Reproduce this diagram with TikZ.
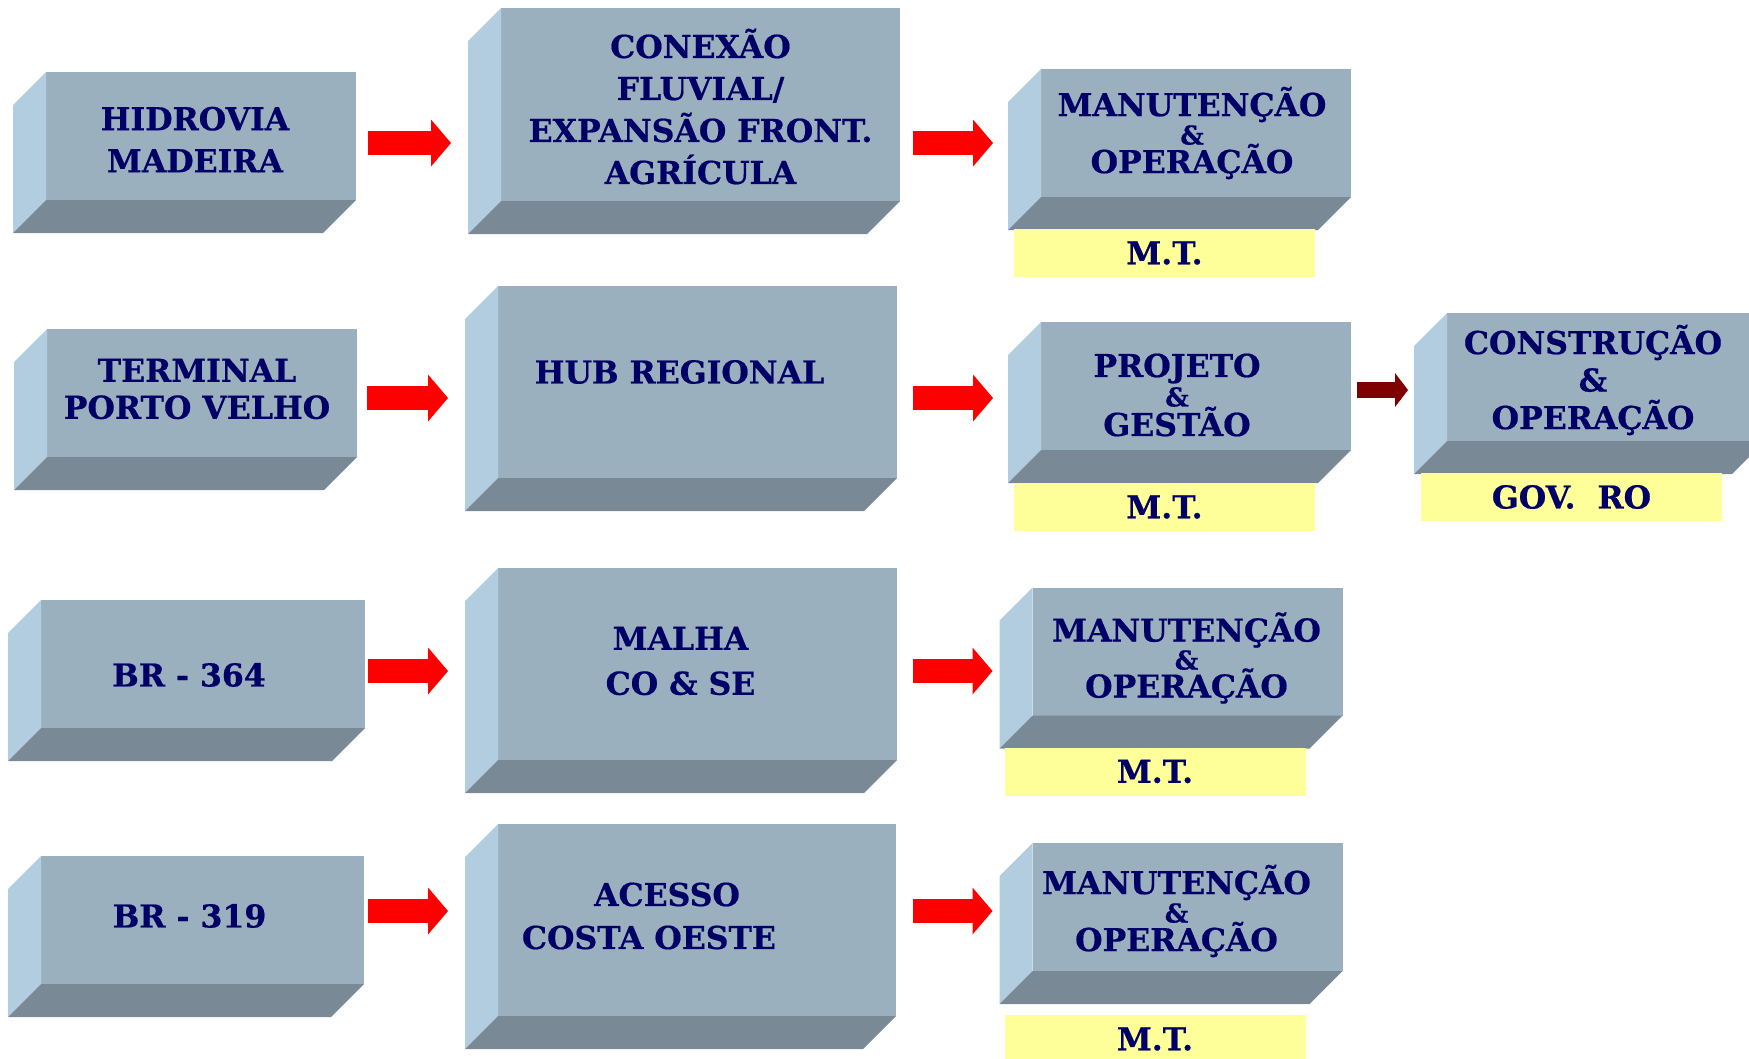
\documentclass[tikz,border=0pt]{standalone}
\usepackage{fontspec}
\setmainfont{DejaVu Serif}[BoldFeatures={FakeBold=0.6}]
\usetikzlibrary{arrows.meta, positioning}
\definecolor{slabfront}{HTML}{9BB0BF}
\definecolor{slabside}{HTML}{B3CDE0}
\definecolor{slabbottom}{HTML}{798A96}
\definecolor{labelnavy}{HTML}{000066}
\definecolor{tagyellow}{HTML}{FFFF99}
\definecolor{darkarrow}{HTML}{800000}
\newcommand{\amp}{{\fontsize{26}{28}\selectfont\&}}

\begin{document}
\begin{tikzpicture}[x=1pt, y=-1pt,
    slab/.style={fill=slabfront, inner sep=0pt, outer sep=0pt, minimum width=310pt, minimum height=128pt},
    boxtxt/.style={text=labelnavy, align=center, inner sep=0pt, font={\bfseries\fontsize{31.5}{#1}\selectfont\lineskiplimit=-100pt}},
    boxtxt/.default=42,
    tag/.style={fill=tagyellow, text=labelnavy, inner sep=0pt, outer sep=0pt, minimum width=301pt, minimum height=48pt, anchor=north west, font=\bfseries\fontsize{31.5}{36}\selectfont},
    redarrow/.style={red, line width=24pt, -{Triangle[length=20pt 0, width=47pt 0, line width=0pt]}, shorten >=50pt},
    darkred/.style={darkarrow, line width=16pt, -{Triangle[length=13pt 0, width=34pt 0, line width=0pt]}}]
        \useasboundingbox (0,0) rectangle (1749,1058);

        % front faces
        \node [slab] (hidrovia) at (201,136) {};
        \node [slab, minimum width=399pt, minimum height=193pt] (conexao) at (700.5,104.5) {};
        \node [slab] (manut1) at (1196,133) {};

        \node [slab] (terminal) at (202,393) {};
        \node [slab, minimum width=399pt, minimum height=192pt] (hub) at (697.5,382) {};
        \node [slab] (projeto) at (1196,386) {};
        \node [slab, minimum width=318pt] (construcao) at (1606,377) {};

        \node [slab, minimum width=324pt] (br364) at (203,664) {};
        \node [slab, minimum width=399pt, minimum height=192pt] (malha) at (697.5,664) {};
        \node [slab] (manut3) at (1187.5,651.5) {};

        \node [slab, minimum width=323pt] (br319) at (202.5,920) {};
        \node [slab, minimum width=398pt, minimum height=192pt] (acesso) at (697,920) {};
        \node [slab] (manut4) at (1187.5,907) {};

        % side and bottom faces
        \foreach \s in {hidrovia, conexao, manut1, terminal, hub, projeto, construcao, br364, malha, manut3, br319, acesso, manut4} {
            \fill [slabside] (\s.north west) -- ++(-33,33) -- ([shift={(-33,33)}]\s.south west) -- (\s.south west) -- cycle;
            \fill [slabbottom] (\s.south west) -- (\s.south east) -- ++(-33,33) -- ([shift={(-33,33)}]\s.south west) -- cycle;
        }

        % texts
        \node [boxtxt] (hidrovia-t) at ([shift={(-6,3.5)}]hidrovia.center) {HIDROVIA\\MADEIRA};
        \node [boxtxt] (conexao-t) at ([shift={(0,2)}]conexao.center) {CONEXÃO\\FLUVIAL/\\EXPANSÃO FRONT.\\AGRÍCULA};
        \node [boxtxt=28.5] (manut1-t) at ([shift={(-4,0)}]manut1.center) {MANUTENÇÃO\\\amp\\OPERAÇÃO};
        \node [boxtxt=37] (terminal-t) at ([shift={(-5,-4)}]terminal.center) {TERMINAL\\PORTO VELHO};
        \node [boxtxt] (hub-t) at ([shift={(-18,-10)}]hub.center) {HUB REGIONAL};
        \node [boxtxt=29.5] (projeto-t) at ([shift={(-19,9)}]projeto.center) {PROJETO\\\amp\\GESTÃO};
        \node [boxtxt=37.5] (construcao-t) at ([shift={(-13,3)}]construcao.center) {CONSTRUÇÃO\\\&\\OPERAÇÃO};
        \node [boxtxt] (br364-t) at ([shift={(-14,11)}]br364.center) {BR - 364};
        \node [boxtxt=45] (malha-t) at ([shift={(-17,-3)}]malha.center) {MALHA\\CO \& SE};
        \node [boxtxt=28] (manut3-t) at ([shift={(-1,6.5)}]manut3.center) {MANUTENÇÃO\\\amp\\OPERAÇÃO};
        \node [boxtxt] (br319-t) at ([shift={(-13,-4)}]br319.center) {BR - 319};
        \node [boxtxt=43] (acesso-t) at ([shift={(-48,-4)}]acesso.center) {\hspace*{36pt}ACESSO\\COSTA OESTE};
        \node [boxtxt=28.5] (manut4-t) at ([shift={(-11,4)}]manut4.center) {MANUTENÇÃO\\\amp\\OPERAÇÃO};

        % yellow tags
        \node [tag] (mt1) at ([shift={(-27,32)}]manut1.south west) {M.T.};
        \node [tag] (mt2) at ([shift={(-27,33)}]projeto.south west) {M.T.};
        \node [tag] (gov) at ([shift={(-26,32)}]construcao.south west) {GOV.~~RO};
        \node [tag] (mt3) at ([shift={(-28,32)}]manut3.south west) {M.T.};
        \node [tag] (mt4) at ([shift={(-28,44)}]manut4.south west) {M.T.};

        % arrows
        \draw [redarrow, shorten <=12pt] ([yshift=-7pt]hidrovia.east) -- ([yshift=-7pt]hidrovia.east -| conexao.west);
        \draw [redarrow, shorten <=13pt, shorten >=48pt] ([yshift=-7pt]hidrovia.east -| conexao.east) -- ([yshift=-7pt]hidrovia.east -| manut1.west);
        \draw [redarrow, shorten <=10pt] ([yshift=-5pt]terminal.east) -- ([yshift=-5pt]terminal.east -| hub.west);
        \draw [redarrow, shorten <=16pt, shorten >=48pt] ([yshift=-5pt]terminal.east -| hub.east) -- ([yshift=-5pt]terminal.east -| projeto.west);
        \draw [darkred, shorten <=6pt, shorten >=39pt] ([yshift=-4pt]projeto.east) -- ([yshift=-4pt]projeto.east -| construcao.west);
        \draw [redarrow, shorten <=3pt] ([yshift=-7pt]br364.east) -- ([yshift=-7pt]br364.east -| malha.west);
        \draw [redarrow, shorten <=16pt, shorten >=40pt] ([yshift=-7pt]br364.east -| malha.east) -- ([yshift=-7pt]br364.east -| manut3.west);
        \draw [redarrow, shorten <=4pt] ([yshift=9pt]br319.east) -- ([yshift=9pt]br319.east -| acesso.west);
        \draw [redarrow, shorten <=17pt, shorten >=40pt] ([yshift=9pt]br319.east -| acesso.east) -- ([yshift=9pt]br319.east -| manut4.west);
\end{tikzpicture}
\end{document}
